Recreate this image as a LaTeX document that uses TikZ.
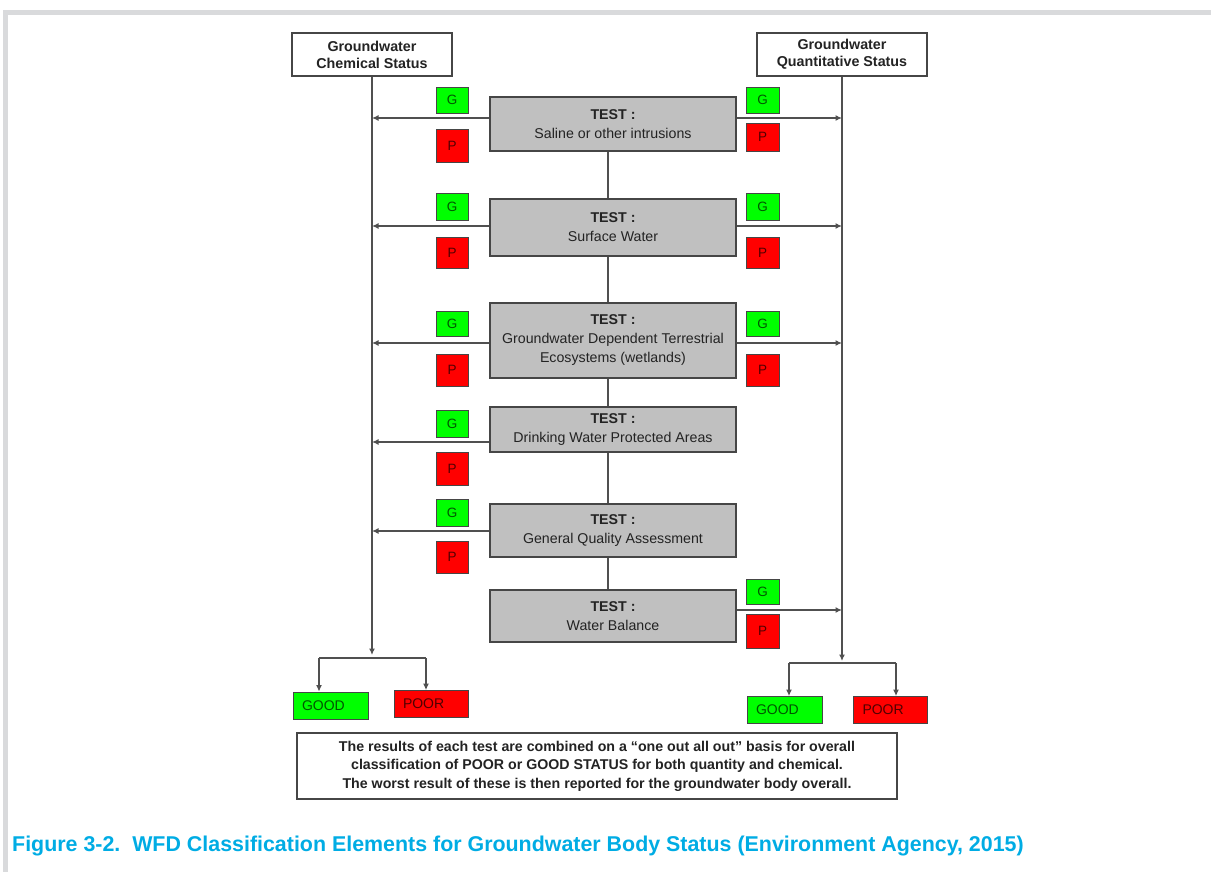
\documentclass[tikz,border=0pt]{standalone}
\usepackage{fontspec}
\setmainfont{Liberation Sans}
\usetikzlibrary{arrows.meta}
\definecolor{linegray}{RGB}{80,80,80}
\definecolor{boxedge}{RGB}{70,70,70}
\definecolor{testfill}{RGB}{192,192,192}
\definecolor{gfill}{RGB}{0,255,0}
\definecolor{pfill}{RGB}{255,0,0}
\definecolor{gtext}{RGB}{0,85,0}
\definecolor{ptext}{RGB}{80,0,0}
\definecolor{framegray}{RGB}{217,218,220}
\definecolor{captionblue}{RGB}{0,172,228}
\definecolor{txt}{RGB}{35,35,35}
\tikzset{
  conn/.style={draw=linegray, line width=1.4pt},
  arr/.style={conn, -{Latex[length=6.5pt,width=6pt]}},
  headbox/.style={draw=boxedge, line width=1.3pt, fill=white, minimum width=160, minimum height=43, align=center, text=txt, font=\bfseries\fontsize{14.3}{17}\selectfont, inner sep=0pt},
  testbox/.style={draw=boxedge, line width=1.6pt, fill=testfill, minimum width=246, align=center, text=txt, font=\fontsize{14.2}{19}\selectfont, inner sep=0pt},
  gbox/.style={draw=boxedge, line width=0.8pt, fill=gfill, text=gtext, minimum width=32, font=\fontsize{13.5}{14}\selectfont, inner sep=0pt},
  pbox/.style={draw=boxedge, line width=0.8pt, fill=pfill, text=ptext, minimum width=32, font=\fontsize{13.5}{14}\selectfont, inner sep=0pt},
  goodbox/.style={draw=boxedge, line width=0.8pt, fill=gfill, text=gtext, minimum height=27, text width=57pt, inner xsep=9pt, inner ysep=0pt, align=left, font=\fontsize{14}{15}\selectfont},
  poorbox/.style={draw=boxedge, line width=0.8pt, fill=pfill, text=ptext, minimum height=27, text width=56pt, inner xsep=9pt, inner ysep=0pt, align=left, font=\fontsize{14}{15}\selectfont},
  notebox/.style={draw=boxedge, line width=1.3pt, fill=white, minimum width=600, minimum height=66, align=center, text=txt, font=\bfseries\fontsize{14.2}{18.5}\selectfont, inner sep=0pt},
}
\begin{document}
\begin{tikzpicture}[x=1pt,y=-1pt]
\useasboundingbox (0,0) rectangle (1211,872);
% frame
\draw[framegray, line width=5pt] (5.5,872) -- (5.5,12.5) -- (1211,12.5);
% headers
\node[headbox] (hl) at (372,54.5) {Groundwater\\Chemical Status};
\node[headbox, minimum width=170] (hr) at (842,54.5) {Groundwater\\Quantitative Status};
% tests
\node[testbox, minimum height=54] (t1) at (613,124) {\textbf{TEST :}\\Saline or other intrusions};
\node[testbox, minimum height=57] (t2) at (613,227.5) {\textbf{TEST :}\\Surface Water};
\node[testbox, minimum height=75] (t3) at (613,340.5) {\textbf{TEST :}\\Groundwater Dependent Terrestrial\\Ecosystems (wetlands)};
\node[testbox, minimum height=45] (t4) at (613,429.5) {\textbf{TEST :}\\Drinking Water Protected Areas};
\node[testbox, minimum height=53] (t5) at (613,530.5) {\textbf{TEST :}\\General Quality Assessment};
\node[testbox, minimum height=52] (t6) at (613,616) {\textbf{TEST :}\\Water Balance};
% G / P left
\node[gbox, minimum height=26] (g1l) at (452,100) {G};
\node[pbox, minimum height=33] (p1l) at (452,145.5) {P};
\node[gbox, minimum height=27] (g2l) at (452,206.5) {G};
\node[pbox, minimum height=31] (p2l) at (452,252.5) {P};
\node[gbox, minimum height=25] (g3l) at (452,323.5) {G};
\node[pbox, minimum height=32] (p3l) at (452,370) {P};
\node[gbox, minimum height=27] (g4l) at (452,423.5) {G};
\node[pbox, minimum height=33] (p4l) at (452,468.5) {P};
\node[gbox, minimum height=27] (g5l) at (452,512.5) {G};
\node[pbox, minimum height=32] (p5l) at (452,557) {P};
% G / P right
\node[gbox, minimum width=33, minimum height=26] (g1r) at (762.5,100) {G};
\node[pbox, minimum width=33, minimum height=28] (p1r) at (762.5,137) {P};
\node[gbox, minimum width=33, minimum height=27] (g2r) at (762.5,206.5) {G};
\node[pbox, minimum width=33, minimum height=31] (p2r) at (762.5,252.5) {P};
\node[gbox, minimum width=33, minimum height=25] (g3r) at (762.5,323.5) {G};
\node[pbox, minimum width=33, minimum height=32] (p3r) at (762.5,370) {P};
\node[gbox, minimum width=33, minimum height=25] (g6r) at (762.5,591.5) {G};
\node[pbox, minimum width=33, minimum height=34] (p6r) at (762.5,631) {P};
% result boxes
\node[goodbox] (goodl) at (330.5,705.5) {GOOD};
\node[poorbox] (poorl) at (431,704) {POOR};
\node[goodbox] (goodr) at (784.5,710) {GOOD};
\node[poorbox] (poorr) at (890.5,710) {POOR};
% note
\node[notebox] (note) at (597,766) {The results of each test are combined on a “one out all out” basis for overall\\classification of POOR or GOOD STATUS for both quantity and chemical.\\The worst result of these is then reported for the groundwater body overall.};
% caption
\node[anchor=base west, inner sep=0pt, text=captionblue, font=\bfseries\fontsize{21.4}{23}\selectfont] (cap) at (12,851) {Figure 3-2.\ \ WFD Classification Elements for Groundwater Body Status (Environment Agency, 2015)};
% coordinates on the status lines
\coordinate (lend) at (372,655);
\coordinate (rend) at (842,661);
\foreach \i/\y in {1/118,2/226,3/343,4/442,5/531} {\coordinate (L\i) at (372,\y);}
\foreach \i/\y in {1/118,2/226,3/343,6/610} {\coordinate (R\i) at (842,\y);}
% vertical status lines
\draw[arr] (hl.south) -- (lend);
\draw[arr] (hr.south) -- (rend);
% central spine
\draw[conn] ([xshift=-5pt]t1.south) -- ([xshift=-5pt]t2.north);
\draw[conn] ([xshift=-5pt]t2.south) -- ([xshift=-5pt]t3.north);
\draw[conn] ([xshift=-5pt]t3.south) -- ([xshift=-5pt]t4.north);
\draw[conn] ([xshift=-5pt]t4.south) -- ([xshift=-5pt]t5.north);
\draw[conn] ([xshift=-5pt]t5.south) -- ([xshift=-5pt]t6.north);
% arrows to chemical line
\foreach \t/\i in {t1/1,t2/2,t3/3,t4/4,t5/5} {\draw[arr] (\t.west |- L\i) -- (L\i);}
% arrows to quantitative line
\foreach \t/\i in {t1/1,t2/2,t3/3,t6/6} {\draw[arr] (\t.east |- R\i) -- (R\i);}
% branches to results
\coordinate (lb1) at (319,658);
\coordinate (lb2) at (426,658);
\coordinate (rb1) at (789,663);
\coordinate (rb2) at (896,663);
\draw[conn] (lb1) -- (lb2);
\draw[arr] (lb1) -- (lb1 |- goodl.north);
\draw[arr] (lb2) -- (lb2 |- poorl.north);
\draw[conn] (rb1) -- (rb2);
\draw[arr] (rb1) -- (rb1 |- goodr.north);
\draw[arr] (rb2) -- (rb2 |- poorr.north);
\end{tikzpicture}
\end{document}
